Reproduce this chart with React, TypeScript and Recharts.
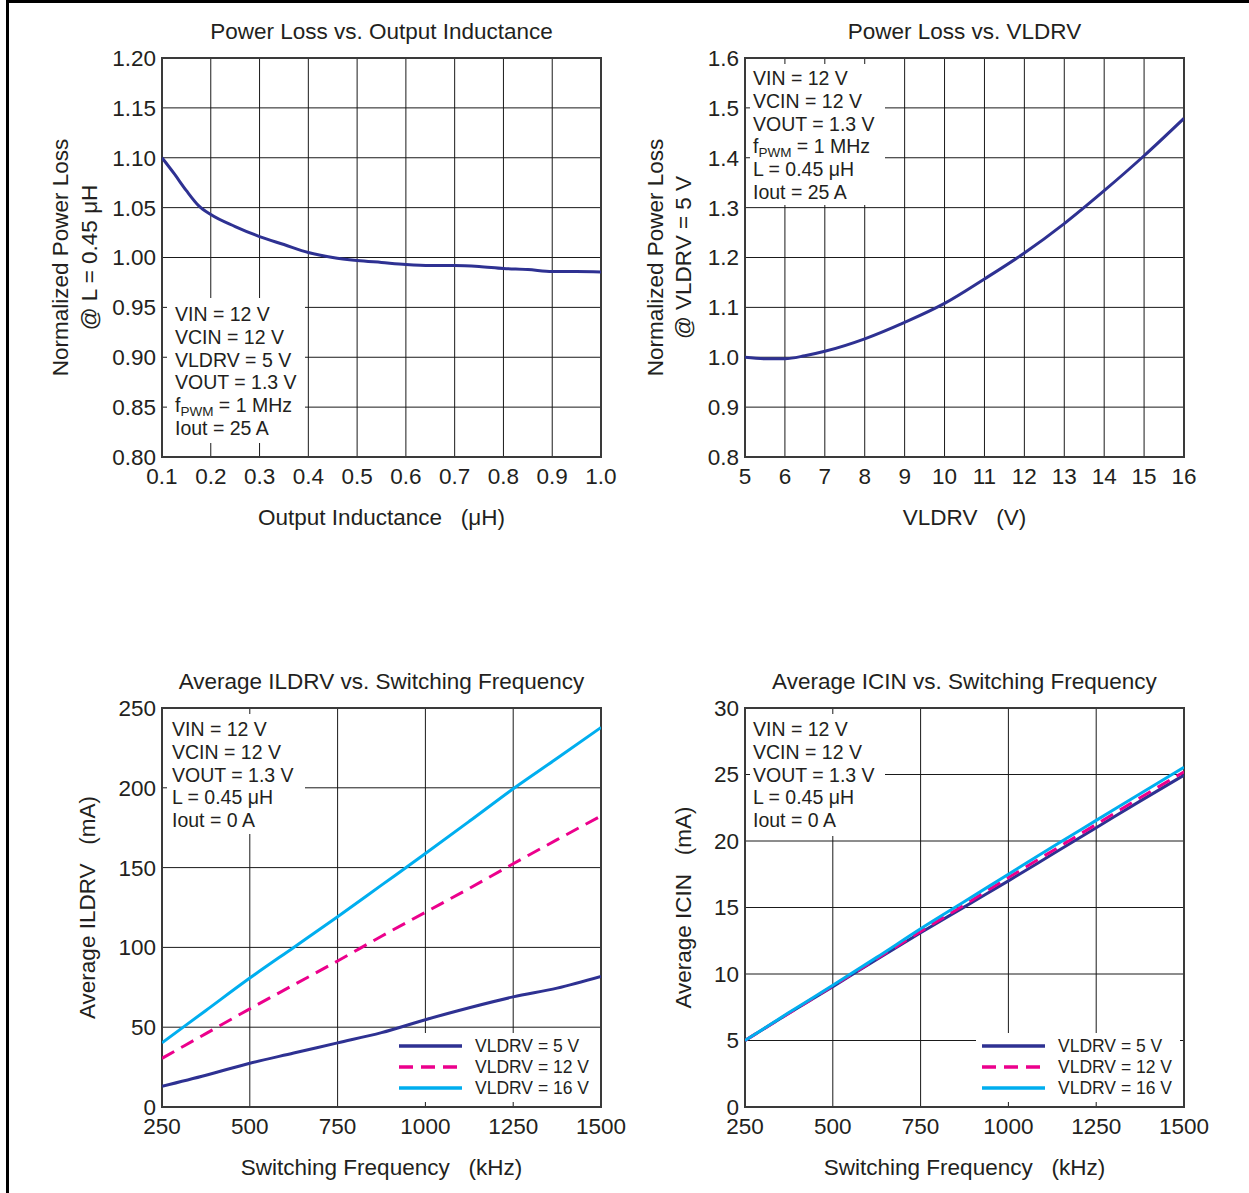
import { LineChart, Line, XAxis, YAxis, CartesianGrid, ReferenceArea } from "recharts";

const FONT = 'Arial, "Liberation Sans", Helvetica, sans-serif';
const INK = "#231f20";
const NAVY = "#2e3192";
const PINK = "#ec008c";
const CYAN = "#00aeef";

// panel geometry, px inside each panel
const W = 640;
const H = 545;
const PL = 162;
const PT = 58;
const PR = 601;
const PB = 457;

// Power Loss vs. Output Inductance
const inductance = [0.1, 0.125, 0.15, 0.175, 0.2, 0.25, 0.3, 0.35, 0.4, 0.45, 0.5, 0.55, 0.6, 0.65, 0.7, 0.75, 0.8, 0.85, 0.9, 0.95, 1.0];
const lossVsInductance = [1.1, 1.084, 1.067, 1.052, 1.043, 1.031, 1.021, 1.013, 1.005, 1.0, 0.997, 0.995, 0.993, 0.992, 0.992, 0.991, 0.989, 0.988, 0.986, 0.986, 0.9855];
const inductanceTicks = [0.1, 0.2, 0.3, 0.4, 0.5, 0.6, 0.7, 0.8, 0.9, 1.0];
const lossTicksA = [0.8, 0.85, 0.9, 0.95, 1.0, 1.05, 1.1, 1.15, 1.2];
const notesA = ["VIN = 12 V", "VCIN = 12 V", "VLDRV = 5 V", "VOUT = 1.3 V", "fPWM = 1 MHz", "Iout = 25 A"];

// Power Loss vs. VLDRV
const vldrv = [5, 5.5, 6, 6.5, 7, 8, 9, 10, 11, 12, 13, 14, 15, 16];
const lossVsVldrv = [1.0, 0.997, 0.997, 1.003, 1.012, 1.037, 1.07, 1.108, 1.157, 1.209, 1.268, 1.334, 1.404, 1.479];
const vldrvTicks = [5, 6, 7, 8, 9, 10, 11, 12, 13, 14, 15, 16];
const lossTicksB = [0.8, 0.9, 1.0, 1.1, 1.2, 1.3, 1.4, 1.5, 1.6];
const notesB = ["VIN = 12 V", "VCIN = 12 V", "VOUT = 1.3 V", "fPWM = 1 MHz", "L = 0.45 μH", "Iout = 25 A"];

// switching frequency sweeps
const frequency = [250, 375, 500, 625, 750, 875, 1000, 1125, 1250, 1375, 1500];
const freqTicks = [250, 500, 750, 1000, 1250, 1500];
const ildrv5 = [13, 19.9, 27.4, 33.8, 40.2, 46.6, 54.7, 62.2, 69, 74.5, 81.8];
const ildrv12 = [30.5, 46, 61.5, 76.5, 91.5, 107, 122, 137, 152.4, 167.5, 182.3];
const ildrv16 = [40.2, 60.5, 80.8, 100, 119.2, 139, 158.8, 179, 199.4, 218.5, 237.8];
const ildrvTicks = [0, 50, 100, 150, 200, 250];
const icin5 = [5, 7.05, 9.05, 11.1, 13.1, 15.05, 17.0, 19.0, 21.0, 23.0, 24.95];
const icin12 = [5, 7.05, 9.1, 11.15, 13.2, 15.2, 17.25, 19.25, 21.25, 23.25, 25.2];
const icin16 = [5, 7.1, 9.15, 11.25, 13.4, 15.45, 17.5, 19.55, 21.55, 23.55, 25.55];
const icinTicks = [0, 5, 10, 15, 20, 25, 30];
const notesFreq = ["VIN = 12 V", "VCIN = 12 V", "VOUT = 1.3 V", "L = 0.45 μH", "Iout = 0 A"];
const legendNames = ["VLDRV = 5 V", "VLDRV = 12 V", "VLDRV = 16 V"];

type Series = { key: string; name: string; color: string; dash?: string };

const buildRows = (xs: number[], ys: number[][]) =>
  xs.map((x, i) => {
    const row: Record<string, number> = { x };
    ys.forEach((s, j) => (row["s" + j] = s[i]));
    return row;
  });

const vldrvSeries: Series[] = [
  { key: "s0", name: legendNames[0], color: NAVY },
  { key: "s1", name: legendNames[1], color: PINK, dash: "14 8" },
  { key: "s2", name: legendNames[2], color: CYAN },
];

function NoteLine({ text, x, y }: { text: string; x: number; y: number }) {
  if (text.startsWith("fPWM")) {
    return (
      <text x={x} y={y}>
        f<tspan fontSize={13.5} dy={4}>PWM</tspan>
        <tspan dy={-4}>{text.slice(4)}</tspan>
      </text>
    );
  }
  return <text x={x} y={y}>{text}</text>;
}

// titles, axis titles, condition notes and legend, drawn above the chart svg
function Overlay({ title, xLabel, yLabels, notes, noteX, noteY, legend, series }: any) {
  return (
    <svg width={W} height={H} style={{ position: "absolute", left: 0, top: 0, pointerEvents: "none" }}>
      <g fontFamily={FONT} fill={INK}>
        <text x={(PL + PR) / 2} y={39} fontSize={22.5} textAnchor="middle">{title}</text>
        <text x={(PL + PR) / 2} y={525} fontSize={22.5} textAnchor="middle">{xLabel}</text>
        {yLabels.map((l: { text: string; dx: number }, i: number) => (
          <text key={i} fontSize={22.5} textAnchor="middle" dy="0.35em"
            transform={`translate(${PL + l.dx}, ${(PT + PB) / 2}) rotate(-90)`}>{l.text}</text>
        ))}
        <g fontSize={19.5}>
          {notes.map((t: string, i: number) => (
            <NoteLine key={i} text={t} x={noteX} y={noteY + i * 22.8} />
          ))}
        </g>
        {legend &&
          series.map((s: Series, i: number) => (
            <g key={s.key}>
              <line x1={399} x2={462} y1={396 + i * 21} y2={396 + i * 21} stroke={s.color} strokeWidth={3.5} strokeDasharray={s.dash} />
              <text x={475} y={396 + i * 21} dy="0.35em" fontSize={17.5}>{s.name}</text>
            </g>
          ))}
      </g>
    </svg>
  );
}

function Panel(p: any) {
  const { left, top, rows, series, xDomain, xTicks, xFmt, yDomain, yTicks, yFmt, noteBox, legend } = p;
  const xAt = (px: number) => xDomain[0] + ((px - PL) / (PR - PL)) * (xDomain[1] - xDomain[0]);
  const yAt = (px: number) => yDomain[1] - ((px - PT) / (PB - PT)) * (yDomain[1] - yDomain[0]);
  const tick = { fill: INK, fontSize: 22.5, fontFamily: FONT };
  return (
    <div style={{ position: "absolute", left, top, width: W, height: H }}>
      <LineChart width={W} height={H} data={rows} margin={{ top: PT, right: W - PR, bottom: H - PB - 40, left: PL - 60 }}>
        <CartesianGrid stroke="#1a1a1a" strokeWidth={1} />
        <XAxis dataKey="x" type="number" domain={xDomain} ticks={xTicks} interval={0} tickFormatter={xFmt}
          height={40} axisLine={false} tickLine={false} tickSize={0} tickMargin={11} tick={tick} allowDataOverflow />
        <YAxis type="number" domain={yDomain} ticks={yTicks} interval={0} tickFormatter={yFmt}
          width={60} axisLine={false} tickLine={false} tickSize={0} tickMargin={6} tick={tick} allowDataOverflow />
        <ReferenceArea x1={xAt(noteBox[0])} x2={xAt(noteBox[2])} y1={yAt(noteBox[3])} y2={yAt(noteBox[1])}
          fill="#fff" fillOpacity={1} stroke="none" />
        {legend && (
          <ReferenceArea x1={xAt(393)} x2={xAt(597)} y1={yAt(452)} y2={yAt(383)} fill="#fff" fillOpacity={1} stroke="none" />
        )}
        {series.map((s: Series) => (
          <Line key={s.key} dataKey={s.key} name={s.name} type="monotone" stroke={s.color} strokeWidth={3}
            strokeDasharray={s.dash} dot={false} isAnimationActive={false} />
        ))}
        <ReferenceArea x1={xDomain[0]} x2={xDomain[1]} y1={yDomain[0]} y2={yDomain[1]} fill="none" stroke="#3a3a3a" strokeWidth={2} />
      </LineChart>
      <Overlay {...p} />
    </div>
  );
}

export default function App() {
  return (
    <div style={{ position: "relative", width: 1249, height: 1193, background: "#fff", overflow: "hidden" }}>
      <style>{"body{margin:0}"}</style>
      <div style={{ position: "absolute", left: 6, top: 0, width: 1243, height: 3, background: "#000" }} />
      <div style={{ position: "absolute", left: 6, top: 0, width: 3, height: 1193, background: "#000" }} />
      <Panel left={0} top={0}
        rows={buildRows(inductance, [lossVsInductance])}
        series={[{ key: "s0", name: "loss", color: NAVY }]}
        xDomain={[0.1, 1.0]} xTicks={inductanceTicks} xFmt={(v: number) => v.toFixed(1)}
        yDomain={[0.8, 1.2]} yTicks={lossTicksA} yFmt={(v: number) => v.toFixed(2)}
        title="Power Loss vs. Output Inductance" xLabel={"Output Inductance\u00a0\u00a0\u00a0(μH)"}
        yLabels={[{ text: "Normalized Power Loss", dx: -102 }, { text: "@ L = 0.45 μH", dx: -73 }]}
        notes={notesA} noteX={175} noteY={321} noteBox={[167, 298, 305, 443]} />
      <Panel left={583} top={0}
        rows={buildRows(vldrv, [lossVsVldrv])}
        series={[{ key: "s0", name: "loss", color: NAVY }]}
        xDomain={[5, 16]} xTicks={vldrvTicks} xFmt={(v: number) => String(v)}
        yDomain={[0.8, 1.6]} yTicks={lossTicksB} yFmt={(v: number) => v.toFixed(1)}
        title="Power Loss vs. VLDRV" xLabel={"VLDRV\u00a0\u00a0\u00a0(V)"}
        yLabels={[{ text: "Normalized Power Loss", dx: -90 }, { text: "@ VLDRV = 5 V", dx: -62 }]}
        notes={notesB} noteX={170} noteY={85} noteBox={[167, 64, 302, 205]} />
      <Panel left={0} top={650}
        rows={buildRows(frequency, [ildrv5, ildrv12, ildrv16])}
        series={vldrvSeries} legend
        xDomain={[250, 1500]} xTicks={freqTicks} xFmt={(v: number) => String(v)}
        yDomain={[0, 250]} yTicks={ildrvTicks} yFmt={(v: number) => String(v)}
        title="Average ILDRV vs. Switching Frequency" xLabel={"Switching Frequency\u00a0\u00a0\u00a0(kHz)"}
        yLabels={[{ text: "Average ILDRV\u00a0\u00a0\u00a0(mA)", dx: -75 }]}
        notes={notesFreq} noteX={172} noteY={86} noteBox={[167, 64, 305, 184]} />
      <Panel left={583} top={650}
        rows={buildRows(frequency, [icin5, icin12, icin16])}
        series={vldrvSeries} legend
        xDomain={[250, 1500]} xTicks={freqTicks} xFmt={(v: number) => String(v)}
        yDomain={[0, 30]} yTicks={icinTicks} yFmt={(v: number) => String(v)}
        title="Average ICIN vs. Switching Frequency" xLabel={"Switching Frequency\u00a0\u00a0\u00a0(kHz)"}
        yLabels={[{ text: "Average ICIN\u00a0\u00a0\u00a0(mA)", dx: -62 }]}
        notes={notesFreq} noteX={170} noteY={86} noteBox={[167, 64, 302, 186]} />
    </div>
  );
}
